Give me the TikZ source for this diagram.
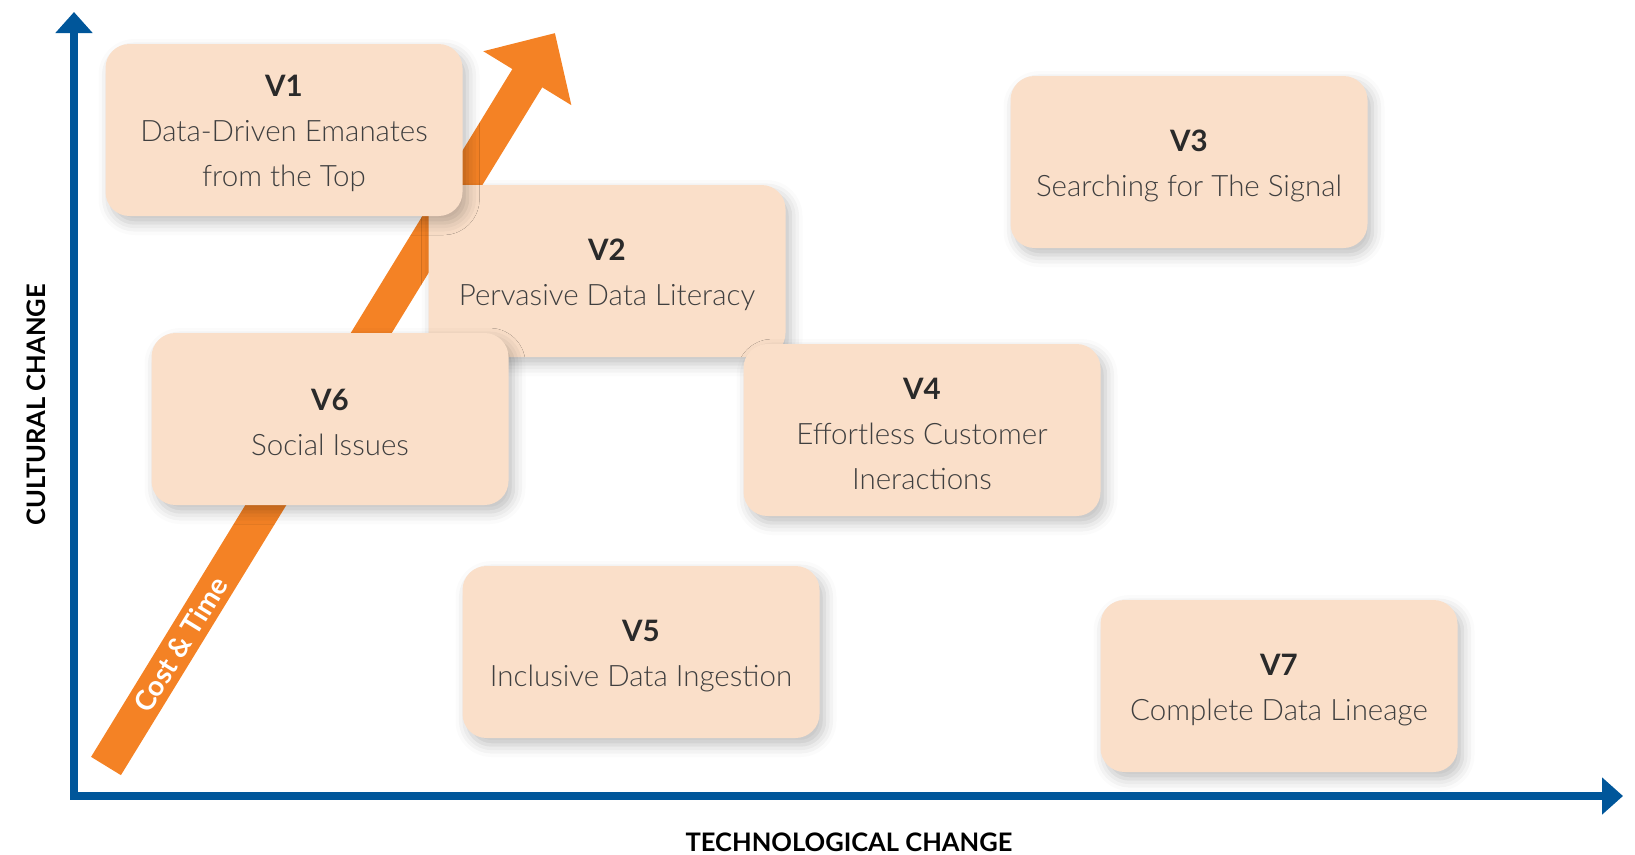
\documentclass[tikz,border=0pt]{standalone}
\usepackage{fontspec}
\setmainfont{Lato}[UprightFont={* Light},BoldFont={* Bold}]
\usetikzlibrary{arrows.meta,shadows.blur}

\definecolor{axisblue}{HTML}{00569A}
\definecolor{costorange}{HTML}{F48225}
\definecolor{boxpeach}{HTML}{FADFC9}
\definecolor{bodygrey}{HTML}{3F3F3F}
\definecolor{titlegrey}{HTML}{2A2A2A}

% bold box title, with a strut to push the text a little down
\newcommand{\vname}[1]{\rule{0pt}{29pt}{\bfseries\color{titlegrey}#1}}

\begin{document}
\begin{tikzpicture}[x=1pt, y=-1pt,
    axis/.style={draw=axisblue, line width=8pt,
      {Triangle[width=36pt,length=21pt]}-{Triangle[width=36pt,length=21pt]}},
    vnode/.style={fill=boxpeach, rounded corners=24pt, minimum width=357pt,
      minimum height=172pt, align=center, text=bodygrey,
      font=\fontsize{29.5}{45}\selectfont,
      blur shadow={shadow xshift=5pt, shadow yshift=-7pt,
        shadow blur radius=12pt, shadow opacity=25}},
    axislabel/.style={font=\fontsize{25.5}{30}\selectfont\bfseries, text=black}]
  \useasboundingbox (0,0) rectangle (1635,854);

  % axes
  \coordinate (origin) at (74,796);
  \coordinate (ytip) at (74,12);
  \coordinate (xtip) at (1623,796);
  \draw[axis] (ytip) -- (origin) -- (xtip);
  \node[axislabel, rotate=90] (ylab) at (36,405) {CULTURAL CHANGE};
  \node[axislabel] (xlab) at (849,842) {TECHNOLOGICAL CHANGE};

  % cost & time arrow, behind the boxes
  \coordinate (tail) at (106,766);
  \coordinate (tip) at (555,33);
  \draw[costorange, line width=35pt, -{Triangle[width=100pt,length=53pt]}] (tail) -- (tip);
  \path (tail) -- node[pos=0.166, sloped, text=white,
    font=\fontsize{28}{30}\selectfont\bfseries] (cost) {Cost \& Time} (tip);

  % value boxes
  \node[vnode] (v2) at (607,271) {\vname{V2}\\ Pervasive Data Literacy};
  \node[vnode] (v1) at (284,130) {\vname{V1}\\ Data-Driven Emanates\\ from the Top};
  \node[vnode] (v6) at (330,419) {\vname{V6}\\ Social Issues};
  \node[vnode] (v4) at (922,430) {\vname{V4}\\ Effortless Customer\\ Ineractions};
  \node[vnode] (v3) at (1189,162) {\vname{V3}\\ Searching for The Signal};
  \node[vnode] (v5) at (641,652) {\vname{V5}\\ Inclusive Data Ingestion};
  \node[vnode] (v7) at (1279,686) {\vname{V7}\\ Complete Data Lineage};
\end{tikzpicture}
\end{document}
